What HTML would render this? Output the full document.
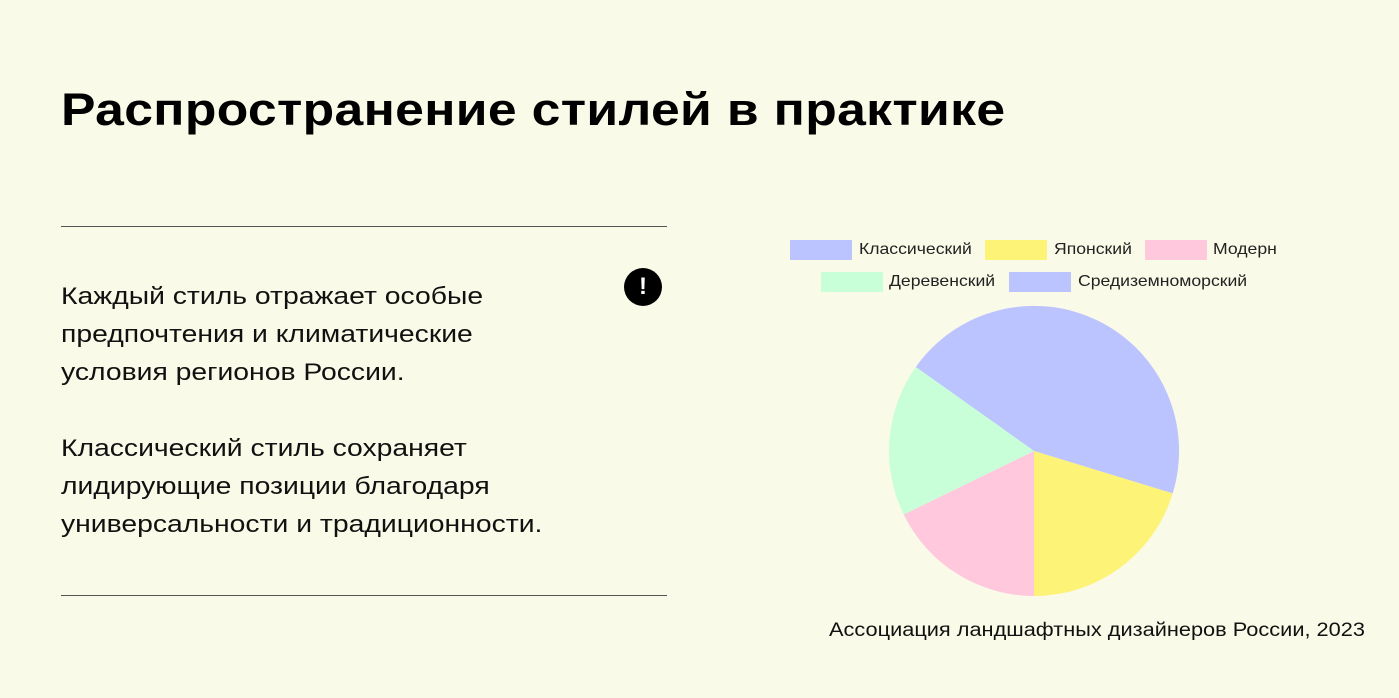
<!DOCTYPE html>
<html><head><meta charset="utf-8"><style>
body{margin:0;width:1399px;height:698px;background:#fafae8;font-family:"Liberation Sans","DejaVu Sans",sans-serif;position:relative;overflow:hidden;color:#000}
h1{position:absolute;left:61px;top:84px;margin:0;font-size:45px;font-weight:bold;letter-spacing:0.3px;transform:scaleX(1.148);transform-origin:0 0;white-space:nowrap}
.hr{position:absolute;left:61px;width:606px;height:1px;background:#555}
.p{position:absolute;left:61px;font-size:24px;line-height:38px;color:#111;transform:scaleX(1.18);transform-origin:0 0;white-space:nowrap}
.icon{position:absolute;left:624px;top:268px;width:38px;height:38px;border-radius:50%;background:#000;color:#fff;font-weight:bold;font-size:24px;text-align:center;line-height:38px}
.lg{position:absolute;font-size:16px;color:#222;line-height:20px;transform:scaleX(1.1);transform-origin:0 0;white-space:nowrap}
.box{position:absolute;width:62px;height:20px}
.src{position:absolute;left:829px;top:620px;font-size:19px;color:#111;transform:scaleX(1.145);transform-origin:0 0;white-space:nowrap}
</style></head><body>
<h1>Распространение стилей в практике</h1>
<div class="hr" style="top:226px"></div>
<div class="hr" style="top:595px"></div>
<div class="p" style="top:278px">Каждый стиль отражает особые<br>предпочтения и климатические<br>условия регионов России.</div>
<div class="p" style="top:430px">Классический стиль сохраняет<br>лидирующие позиции благодаря<br>универсальности и традиционности.</div>
<div class="icon">!</div>
<div class="box" style="left:790px;top:240px;background:#bcc4ff"></div><div class="lg" style="left:859px;top:240px">Классический</div>
<div class="box" style="left:985px;top:240px;background:#fdf377"></div><div class="lg" style="left:1054px;top:240px">Японский</div>
<div class="box" style="left:1145px;top:240px;background:#ffc8dd"></div><div class="lg" style="left:1213px;top:240px">Модерн</div>
<div class="box" style="left:821px;top:272px;background:#c8ffd8"></div><div class="lg" style="left:889px;top:272px">Деревенский</div>
<div class="box" style="left:1009px;top:272px;background:#bcc4ff"></div><div class="lg" style="left:1078px;top:272px">Средиземноморский</div>
<svg style="position:absolute;left:0;top:0" width="1399" height="698">
<path d="M1034,451 L915.8,367 A145,145 0 0 1 1172.7,493.4 Z" fill="#bcc4ff"/>
<path d="M1034,451 L1172.7,493.4 A145,145 0 0 1 1034,596 Z" fill="#fdf377"/>
<path d="M1034,451 L1034,596 A145,145 0 0 1 903.7,514.5 Z" fill="#ffc8dd"/>
<path d="M1034,451 L903.7,514.5 A145,145 0 0 1 915.8,367 Z" fill="#c8ffd8"/>
</svg>
<div class="src">Ассоциация ландшафтных дизайнеров России, 2023</div>
</body></html>
